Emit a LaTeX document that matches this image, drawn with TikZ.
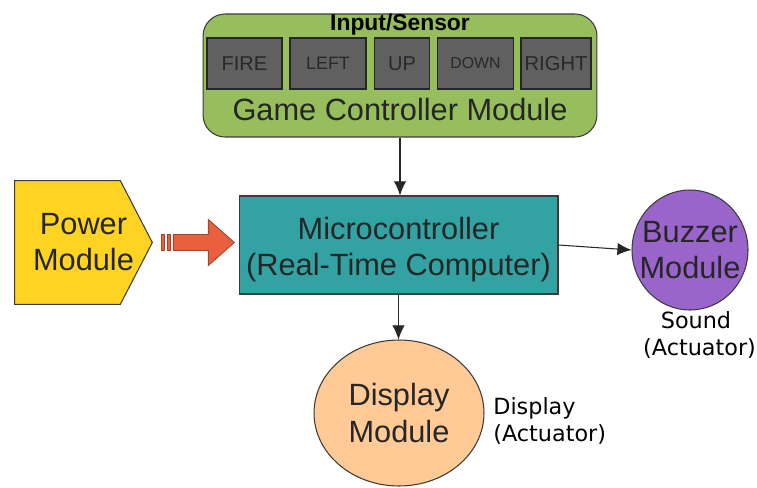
\documentclass[tikz,border=0pt]{standalone}
\usepackage{fontspec}
\setmainfont{Liberation Sans}
\newfontfamily\notefont{DejaVu Sans}
\usepackage{tikz}
\usetikzlibrary{positioning, calc, arrows.meta, shapes.geometric, backgrounds}
\definecolor{ctrlgreen}{RGB}{150,190,92}
\definecolor{btngray}{RGB}{96,96,96}
\definecolor{btntext}{RGB}{40,40,40}
\definecolor{microteal}{RGB}{50,163,162}
\definecolor{powergold}{RGB}{255,211,34}
\definecolor{arrowred}{RGB}{233,96,62}
\definecolor{buzzpurple}{RGB}{154,101,203}
\definecolor{displaypeach}{RGB}{255,202,150}
\definecolor{linegray}{RGB}{60,60,60}
\tikzstyle{block} = [rectangle, draw=linegray, line width=0.6pt, align=center,
                 inner sep=0pt, font=\fontsize{17.5}{20.5}\selectfont]
\tikzset{
	button/.style={rectangle, draw=black!85, line width=0.8pt, fill=btngray,
		text=btntext, minimum height=1.02cm, inner sep=0pt},
	module/.style={ellipse, draw=linegray, line width=0.6pt, align=center,
		inner sep=0pt, font=\fontsize{17.5}{20.5}\selectfont},
	note/.style={font=\notefont\fontsize{12.7}{15.5}\selectfont, align=left, inner sep=0pt},
	link/.style={-{Latex[length=8pt,width=7pt]}, line width=0.6pt, draw=black!85},
	fatarrow/.style={fill=arrowred, draw=arrowred!70!black, line width=0.5pt},
}

\begin{document}
\begin{tikzpicture}[x=0.02cm, y=-0.02cm]
\useasboundingbox (0,0) rectangle (757,487);

% input side
\node [block, rounded corners=0.44cm, fill=ctrlgreen, minimum width=7.88cm,
	minimum height=2.46cm] at (400,75.5) (ctrl) {};
\node [font=\bfseries\fontsize{13}{13}\selectfont] at (400,25) (sensor) {Input/Sensor};
\node [font=\fontsize{17.5}{17.5}\selectfont, text=black!85] at (400,110) (ctrltext) {Game Controller Module};
\foreach \x/\w/\btn/\fs in {244.5/1.5/FIRE/11.4, 328/1.52/LEFT/10.2,
		402/1.1/UP/11.4, 475.5/1.52/DOWN/9, 556/1.4/RIGHT/11.5}
	\node [button, minimum width=\w cm, font=\fontsize{\fs}{\fs}\selectfont] at (\x,63.5) (\btn) {\btn};

% computer
\node [block, fill=microteal, minimum width=6.38cm, minimum height=1.96cm,
	text=black!85] at (398.5,245) (micro) {\rule{0pt}{17.5pt}Microcontroller\\(Real-Time Computer)};

% power
\node [align=center, inner sep=0pt, minimum width=2.74cm, minimum height=2.46cm,
	font=\fontsize{17.5}{20.5}\selectfont, text=black!85] at (83.5,242.5) (power) {Power\\Module};
\begin{pgfonlayer}{background}
\draw [fill=powergold, draw=linegray, line width=0.6pt] (power.north west)
	-- ($(power.north east)+(-32,0)$) -- (power.east)
	-- ($(power.south east)+(-32,0)$) -- (power.south west) -- cycle;
\end{pgfonlayer}
\draw [fatarrow] ($(power.east)+(9,-8)$) rectangle ++(3,16);
\draw [fatarrow] ($(power.east)+(15,-8)$) rectangle ++(3,16);
\draw [fatarrow] ($(power.east)+(21,-8)$) -- ++(35,0) -- ++(0,-15)
	-- ($(power.east)+(82,0)$) -- ++(-26,23) -- ++(0,-15) -- ++(-35,0) -- cycle;

% outputs
\node [module, fill=buzzpurple, inner xsep=-0.2cm, minimum width=2.32cm,
	minimum height=2.4cm, text=black!85] at (690,250) (buzzer) {Buzzer\\Module};
\node [module, fill=displaypeach, minimum width=3.4cm, minimum height=2.92cm,
	text=black!85] at (399,413) (display) {Display\\Module};
\node [note, align=center] at (696,335) (soundnote) {Sound\\\ (Actuator)};
\node [note, anchor=west] at (493,421) (displaynote) {Display\\(Actuator)};

\draw [link] (ctrl.south) -- (ctrl.south |- micro.north);
\draw [link] (micro.east) -- (buzzer.west);
\draw [link] (micro.south) -- (micro.south |- display.north);

\end{tikzpicture}
\end{document}
